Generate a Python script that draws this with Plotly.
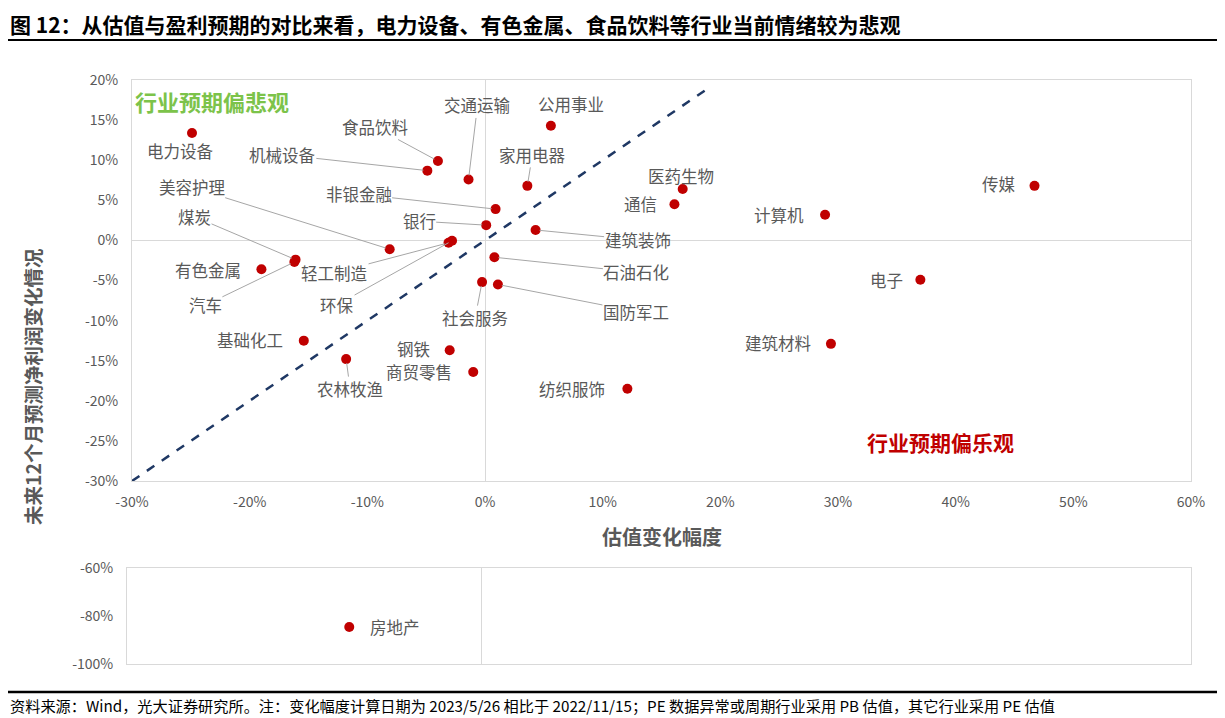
import plotly.graph_objects as go

# ---------------- data ----------------
industries = ["电力设备", "食品饮料", "机械设备", "交通运输", "公用事业", "家用电器",
              "非银金融", "银行", "美容护理", "煤炭", "有色金属", "汽车", "轻工制造",
              "环保", "基础化工", "农林牧渔", "钢铁", "商贸零售", "社会服务", "国防军工",
              "石油石化", "建筑装饰", "医药生物", "通信", "计算机", "传媒", "电子",
              "建筑材料", "纺织服饰"]
valuation_chg = [-24.9, -4.0, -4.9, -1.4, 5.6, 3.6,
                 0.9, 0.1, -8.1, -16.1, -19.0, -16.2, -3.1,
                 -2.8, -15.4, -11.8, -3.0, -1.0, -0.25, 1.1,
                 0.8, 4.3, 16.8, 16.1, 28.9, 46.7, 37.0,
                 29.4, 12.1]
profit_chg = [13.4, 9.9, 8.7, 7.6, 14.3, 6.8,
              3.9, 1.9, -1.1, -2.4, -3.6, -2.7, -0.3,
              -0.05, -12.5, -14.8, -13.7, -16.4, -5.2, -5.5,
              -2.1, 1.3, 6.4, 4.5, 3.2, 6.8, -4.9,
              -12.9, -18.5]

outlier_name = ["房地产"]
outlier_val = [-11.2]
outlier_profit = [-84.6]

diag_x = [-30, 19.2]
diag_y = [-30, 19.2]

x_ticks = [-30, -20, -10, 0, 10, 20, 30, 40, 50, 60]
x_tick_labels = ["-30%", "-20%", "-10%", "0%", "10%", "20%", "30%", "40%", "50%", "60%"]
y_ticks = [-30, -25, -20, -15, -10, -5, 0, 5, 10, 15, 20]
y_tick_labels = ["-30%", "-25%", "-20%", "-15%", "-10%", "-5%", "0%", "5%", "10%", "15%", "20%"]
y2_ticks = [-100, -80, -60]
y2_tick_labels = ["-100%", "-80%", "-60%"]

# label placement: (dx, dy) pixel offset of text centre from point, leader line flag
label_offsets = {
    "电力设备": (-12, 18, False), "食品饮料": (-63, -34, True), "机械设备": (-145, -16, True),
    "交通运输": (9, -74, True), "公用事业": (20, -22, False), "家用电器": (5, -31, True),
    "非银金融": (-137, -15, True), "银行": (-67, -4, True), "美容护理": (-198, -62, True),
    "煤炭": (-101, -43, True), "有色金属": (-53, 1, False), "汽车": (-89, 43, True),
    "轻工制造": (-114, 30, True), "环保": (-115, 64, True), "基础化工": (-54, -1, False),
    "农林牧渔": (4, 30, True), "钢铁": (-36, -1, False), "商贸零售": (-54, 0, False),
    "社会服务": (-7, 36, True), "国防军工": (138, 27, True), "石油石化": (142, 15, True),
    "建筑装饰": (102, 10, True), "医药生物": (-2, -13, False), "通信": (-34, 0, False),
    "计算机": (-46, 0, False), "传媒": (-36, -2, False), "电子": (-34, 0, False),
    "建筑材料": (-53, -1, False), "纺织服饰": (-55, 0, False),
}

# page body has an 8px margin: figure is drawn at (8, 8)
OFF = 8
W, H = 1225 - OFF, 718 - OFF
def px(x):
    return (x - OFF) / W
def py(y):
    return 1 - (y - OFF) / H

RED = "#C00000"
GRAY = "#595959"
LINE = "#D9D9D9"
FONT = "Noto Sans CJK SC"
LBL = 16.5

fig = go.Figure()

fig.add_trace(go.Scatter(x=diag_x, y=diag_y, mode="lines",
                         line=dict(color="#1F3864", width=2.5, dash="dash"),
                         xaxis="x", yaxis="y", hoverinfo="skip", showlegend=False))
fig.add_trace(go.Scatter(x=valuation_chg, y=profit_chg, mode="markers", text=industries,
                         marker=dict(color=RED, size=10),
                         xaxis="x", yaxis="y", showlegend=False))
fig.add_trace(go.Scatter(x=outlier_val, y=outlier_profit, mode="markers", text=outlier_name,
                         marker=dict(color=RED, size=10),
                         xaxis="x2", yaxis="y2", showlegend=False))

annotations = []
for name, xv, yv in zip(industries, valuation_chg, profit_chg):
    dx, dy, leader = label_offsets[name]
    if leader:
        annotations.append(dict(x=xv, y=yv, xref="x", yref="y", text=name,
                                showarrow=True, ax=dx, ay=dy, arrowhead=0,
                                arrowwidth=1, arrowcolor="#A6A6A6", standoff=4, borderpad=0,
                                font=dict(size=LBL, color=GRAY, family=FONT)))
    else:
        annotations.append(dict(x=xv, y=yv, xref="x", yref="y", text=name,
                                showarrow=False, xshift=dx, yshift=-dy, borderpad=0,
                                font=dict(size=LBL, color=GRAY, family=FONT)))
for name, xv, yv in zip(outlier_name, outlier_val, outlier_profit):
    annotations.append(dict(x=xv, y=yv, xref="x2", yref="y2", text=name,
                            showarrow=False, xshift=46, yshift=0,
                            font=dict(size=LBL, color=GRAY, family=FONT)))

# region labels
annotations.append(dict(x=px(133), y=py(101), xref="paper", yref="paper", xanchor="left",
                        yanchor="middle", text="<b>行业预期偏悲观</b>", showarrow=False,
                        font=dict(size=22, color="#7CC34A", family=FONT)))
annotations.append(dict(x=px(940), y=py(442), xref="paper", yref="paper", xanchor="center",
                        yanchor="middle", text="<b>行业预期偏乐观</b>", showarrow=False,
                        font=dict(size=21, color=RED, family=FONT)))
# axis titles
annotations.append(dict(x=px(662), y=py(536), xref="paper", yref="paper", xanchor="center",
                        yanchor="middle", text="<b>估值变化幅度</b>", showarrow=False,
                        font=dict(size=20, color=GRAY, family=FONT)))
annotations.append(dict(x=px(33), y=py(387), xref="paper", yref="paper", xanchor="center",
                        yanchor="middle", text="<b>未来12个月预测净利润变化情况</b>",
                        showarrow=False, textangle=-90,
                        font=dict(size=19.5, color=GRAY, family=FONT)))
# title & footer
annotations.append(dict(x=px(8), y=py(24), xref="paper", yref="paper", xanchor="left",
                        yanchor="middle",
                        text="<b>图 12：从估值与盈利预期的对比来看，电力设备、有色金属、食品饮料等行业当前情绪较为悲观</b>",
                        showarrow=False, font=dict(size=21, color="#000000", family=FONT)))
annotations.append(dict(x=px(8), y=py(705), xref="paper", yref="paper", xanchor="left",
                        yanchor="middle",
                        text="资料来源：Wind，光大证券研究所。注：变化幅度计算日期为 2023/5/26 相比于 2022/11/15；PE 数据异常或周期行业采用 PB 估值，其它行业采用 PE 估值",
                        showarrow=False, font=dict(size=15.2, color="#000000", family=FONT)))

shapes = [
    dict(type="line", xref="paper", yref="paper", x0=px(8), x1=1, y0=py(40), y1=py(40),
         line=dict(color="#000000", width=2)),
    dict(type="line", xref="paper", yref="paper", x0=0, x1=1, y0=py(692), y1=py(692),
         line=dict(color="#000000", width=2.5)),
]

axis_common = dict(showgrid=False, showline=True, mirror=True, linecolor=LINE, linewidth=1,
                   zeroline=True, zerolinecolor=LINE, zerolinewidth=1, ticks="",
                   automargin=False,
                   tickfont=dict(size=14, color=GRAY, family=FONT))

fig.update_layout(
    width=W, height=H, margin=dict(l=0, r=0, t=0, b=0, autoexpand=False),
    paper_bgcolor="white", plot_bgcolor="white",
    font=dict(family=FONT),
    xaxis=dict(axis_common, range=[-30, 60], domain=[px(132), px(1191)], anchor="y",
               tickvals=x_ticks, ticktext=x_tick_labels, ticklabelstandoff=8),
    yaxis=dict(axis_common, range=[-30, 20], domain=[py(481), py(80)], anchor="x",
               tickvals=y_ticks, ticktext=y_tick_labels, ticklabelstandoff=10),
    xaxis2=dict(axis_common, range=[-30, 60], domain=[px(127), px(1191)], anchor="y2",
                showticklabels=False),
    yaxis2=dict(axis_common, range=[-100, -60], domain=[py(664), py(568)], anchor="x2",
                tickvals=y2_ticks, ticktext=y2_tick_labels, ticklabelstandoff=10),
    annotations=annotations, shapes=shapes,
)

fig.write_html("out.html")
